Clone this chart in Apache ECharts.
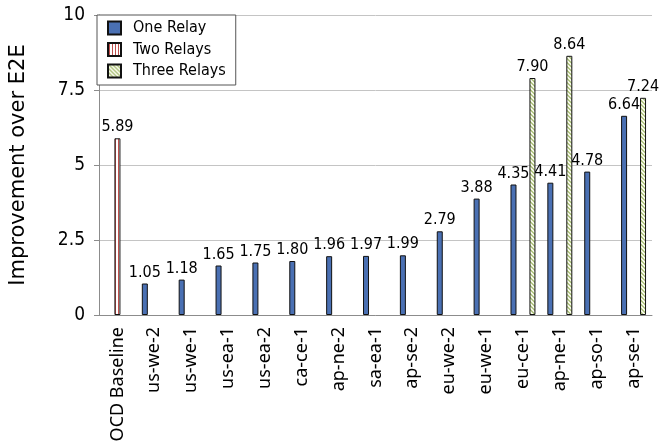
<!DOCTYPE html>
<html>
<head>
<meta charset="utf-8">
<script src="https://cdn.jsdelivr.net/npm/echarts@6/dist/echarts.min.js"></script>
<style>
  html, body { margin: 0; padding: 0; background: #fff; }
  #chart { width: 669px; height: 448px; }
</style>
</head>
<body>
<div id="chart"></div>
<script>
const regions = ["OCD Baseline","us-we-2","us-we-1","us-ea-1","us-ea-2","ca-ce-1","ap-ne-2","sa-ea-1","ap-se-2","eu-we-2","eu-we-1","eu-ce-1","ap-ne-1","ap-so-1","ap-se-1"];
const oneRelay = [null,1.05,1.18,1.65,1.75,1.80,1.96,1.97,1.99,2.79,3.88,4.35,4.41,4.78,6.64];
const twoRelays = [5.89,null,null,null,null,null,null,null,null,null,null,null,null,null,null];
const threeRelays = [null,null,null,null,null,null,null,null,null,null,null,7.90,8.64,null,7.24];
const yTicks = [0,2.5,5,7.5,10];

// stripe patterns for the hatched bars
function stripes() {
  const c = document.createElement('canvas');
  c.width = 3; c.height = 3;
  const ctx = c.getContext('2d');
  ctx.fillStyle = '#ffffff';
  ctx.fillRect(0,0,3,3);
  ctx.fillStyle = '#c0504d';
  ctx.fillRect(1,0,1,3);
  return c;
}
function diag() {
  const c = document.createElement('canvas');
  c.width = 4; c.height = 4;
  const ctx = c.getContext('2d');
  ctx.fillStyle = '#f7f8ea';
  ctx.fillRect(0,0,4,4);
  ctx.fillStyle = '#b3c785';
  for (let i = 0; i < 4; i++) {
    ctx.fillRect(i, i, 1, 1);
    ctx.fillRect((i + 1) % 4, i, 1, 1);
  }
  return c;
}

const labelStyle = {
  show: true,
  position: 'top',
  distance: 3,
  fontFamily: 'DejaVu Sans Condensed',
  fontSize: 16,
  color: '#000',
  formatter: (p) => p.value.toFixed(2)
};

const myChart = echarts.init(document.getElementById('chart'));
myChart.setOption({
  animation: false,
  grid: { left: 97, right: 17, top: 15, bottom: 133 },
  legend: {
    orient: 'vertical',
    left: 97,
    top: 15,
    icon: 'rect',
    backgroundColor: '#fff',
    borderColor: '#555',
    borderWidth: 1,
    borderRadius: 0,
    padding: [5, 10, 6, 10],
    itemWidth: 13,
    itemHeight: 13,
    itemGap: 5.5,
    textStyle: { fontFamily: 'DejaVu Sans Condensed', fontSize: 16, color: '#000', padding: [0, 0, 0, 7] },
    data: ['One Relay','Two Relays','Three Relays']
  },
  xAxis: {
    type: 'category',
    data: regions,
    axisLine: { lineStyle: { color: '#8c8c8c' } },
    axisTick: { length: 5, lineStyle: { color: '#8c8c8c' } },
    axisLabel: {
      rotate: 90,
      interval: 0,
      margin: 12,
      fontFamily: 'Noto Sans',
      fontSize: 18,
      color: '#000'
    }
  },
  yAxis: {
    type: 'value',
    min: 0,
    max: 10,
    interval: 2.5,
    name: 'Improvement over E2E',
    nameLocation: 'middle',
    nameGap: 70,
    nameTextStyle: { fontFamily: 'DejaVu Sans', fontSize: 21, color: '#000' },
    axisLine: { show: true, lineStyle: { color: '#8c8c8c' } },
    axisTick: { show: true, length: 5, lineStyle: { color: '#8c8c8c' } },
    splitLine: { lineStyle: { color: '#c4c4c4' } },
    axisLabel: {
      margin: 14,
      fontFamily: 'DejaVu Sans Condensed',
      fontSize: 19,
      color: '#000',
      formatter: (v) => yTicks.indexOf(v) >= 0 ? String(v) : ''
    }
  },
  series: [
    {
      name: 'One Relay',
      type: 'bar',
      data: oneRelay,
      barWidth: 6,
      barGap: '58%',
      itemStyle: { color: '#4a70b3', borderColor: '#111', borderWidth: 1 },
      label: labelStyle
    },
    {
      name: 'Two Relays',
      type: 'bar',
      data: twoRelays,
      barWidth: 6,
      barGap: '58%',
      itemStyle: { color: { image: stripes(), repeat: 'repeat' }, borderColor: '#111', borderWidth: 1 },
      label: labelStyle
    },
    {
      name: 'Three Relays',
      type: 'bar',
      data: threeRelays,
      barWidth: 6,
      barGap: '58%',
      itemStyle: { color: { image: diag(), repeat: 'repeat' }, borderColor: '#111', borderWidth: 1 },
      label: labelStyle
    }
  ]
});
</script>
</body>
</html>
